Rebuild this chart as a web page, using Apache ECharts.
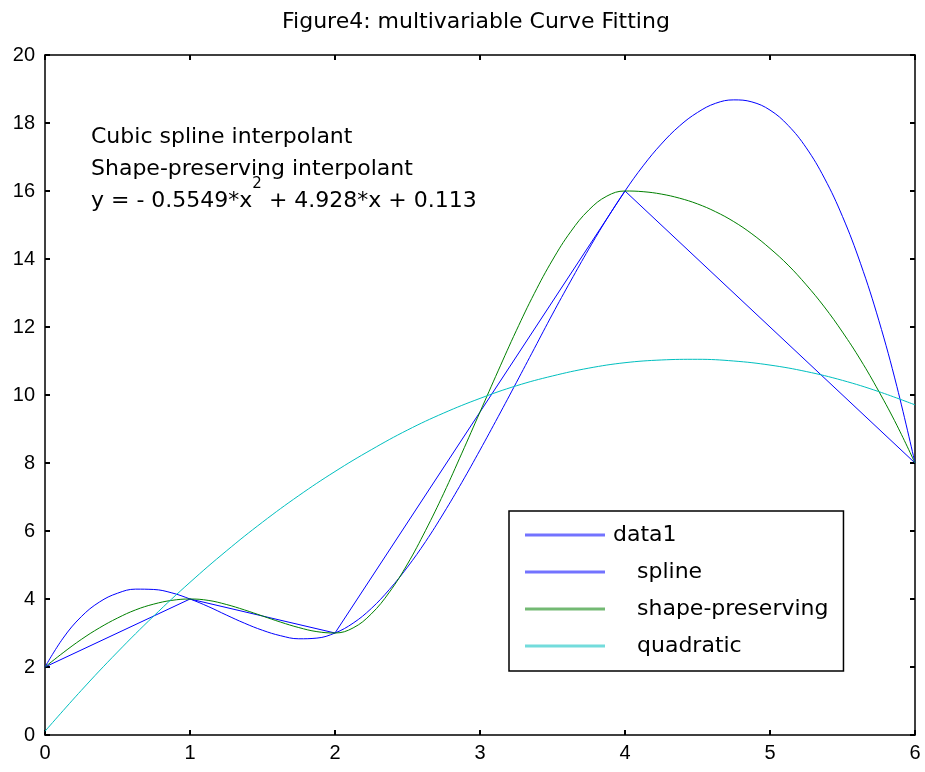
<!DOCTYPE html>
<html>
<head>
<meta charset="utf-8">
<script src="https://cdn.jsdelivr.net/npm/echarts@6/dist/echarts.min.js"></script>
<style>
html, body { margin: 0; padding: 0; background: #fff; }
#main { width: 925px; height: 772px; }
</style>
</head>
<body>
<div id="main"></div>
<script>
// raw data points
var dataX = [0, 1, 2, 4, 6];
var dataY = [2, 4, 3, 16, 8];

// interpolants read at every 1/8 of x
var xsFine = [0, 0.125, 0.25, 0.375, 0.5, 0.625, 0.75, 0.875, 1, 1.125, 1.25, 1.375, 1.5, 1.625, 1.75, 1.875,
              2, 2.125, 2.25, 2.375, 2.5, 2.625, 2.75, 2.875, 3, 3.125, 3.25, 3.375, 3.5, 3.625, 3.75, 3.875,
              4, 4.125, 4.25, 4.375, 4.5, 4.625, 4.75, 4.875, 5, 5.125, 5.25, 5.375, 5.5, 5.625, 5.75, 5.875, 6];
var splineY = [2, 2.85, 3.48, 3.91, 4.17, 4.29, 4.28, 4.18, 4, 3.78, 3.53, 3.29, 3.08, 2.92, 2.83, 2.85,
               3, 3.29, 3.72, 4.28, 4.94, 5.69, 6.53, 7.43, 8.38, 9.36, 10.36, 11.37, 12.38, 13.35, 14.29, 15.18,
               16, 16.74, 17.38, 17.91, 18.31, 18.58, 18.68, 18.62, 18.38, 17.93, 17.27, 16.38, 15.25, 13.86, 12.2, 10.25, 8];
var pchipY = [2, 2.42, 2.81, 3.15, 3.44, 3.68, 3.85, 3.96, 4, 3.96, 3.84, 3.68, 3.5, 3.32, 3.16, 3.04,
              3, 3.15, 3.56, 4.2, 5.03, 6.02, 7.11, 8.29, 9.5, 10.71, 11.89, 12.99, 13.97, 14.8, 15.44, 15.85,
              16, 15.98, 15.91, 15.79, 15.62, 15.39, 15.1, 14.74, 14.31, 13.82, 13.24, 12.59, 11.85, 11.03, 10.11, 9.11, 8];

// quadratic fit read at every 1/4 of x
var xsCoarse = [0, 0.25, 0.5, 0.75, 1, 1.25, 1.5, 1.75, 2, 2.25, 2.5, 2.75, 3,
                3.25, 3.5, 3.75, 4, 4.25, 4.5, 4.75, 5, 5.25, 5.5, 5.75, 6];
var quadY = [0.11, 1.31, 2.44, 3.5, 4.49, 5.41, 6.26, 7.04, 7.75, 8.39, 8.97, 9.47, 9.9,
             10.27, 10.56, 10.79, 10.95, 11.03, 11.05, 11, 10.88, 10.69, 10.43, 10.1, 9.71];

var seriesNames = ['data1', 'spline', 'shape-preserving', 'quadratic'];
var seriesColors = ['#0000ff', '#0000ff', '#008000', '#00bfbf'];
var notes = ['Cubic spline interpolant', 'Shape-preserving interpolant'];

function pairs(x, y) {
  return x.map(function (v, i) { return [v, y[i]]; });
}

var myChart = echarts.init(document.getElementById('main'));
var font = "'Liberation Sans', Arial, sans-serif";
var wide = "'DejaVu Sans', sans-serif";

function tick() {
  return { show: true, inside: true, length: 5, lineStyle: { color: '#000', width: 2 } };
}
function axisLine() {
  return { show: true, onZero: false, lineStyle: { color: '#000', width: 1.5 } };
}

function lineSeries(i, data, smooth) {
  return {
    name: seriesNames[i],
    type: 'line',
    data: data,
    symbol: 'none',
    showSymbol: false,
    smooth: smooth,
    xAxisIndex: 0,
    yAxisIndex: 0,
    lineStyle: { color: seriesColors[i], width: 1 },
    itemStyle: { color: seriesColors[i] },
    emphasis: { disabled: true }
  };
}

var option = {
  backgroundColor: '#fff',
  animation: false,
  title: {
    text: 'Figure4: multivariable Curve Fitting',
    left: 277,
    top: 6,
    textStyle: { fontFamily: wide, fontSize: 22, fontWeight: 'normal', color: '#000' }
  },
  grid: { left: 45, right: 10, top: 55, bottom: 37, containLabel: false },
  xAxis: [{
    type: 'value', min: 0, max: 6, interval: 1, position: 'bottom',
    axisLine: axisLine(), axisTick: tick(), splitLine: { show: false },
    axisLabel: { color: '#000', fontFamily: font, fontSize: 20, margin: 8 }
  }, {
    type: 'value', min: 0, max: 6, interval: 1, position: 'top',
    axisLine: axisLine(), axisTick: tick(), splitLine: { show: false },
    axisLabel: { show: false }
  }],
  yAxis: [{
    type: 'value', min: 0, max: 20, interval: 2, position: 'left',
    axisLine: axisLine(), axisTick: tick(), splitLine: { show: false },
    axisLabel: { color: '#000', fontFamily: font, fontSize: 20, margin: 10 }
  }, {
    type: 'value', min: 0, max: 20, interval: 2, position: 'right',
    axisLine: axisLine(), axisTick: tick(), splitLine: { show: false },
    axisLabel: { show: false }
  }],
  legend: {
    data: seriesNames,
    orient: 'vertical',
    left: 509,
    top: 511,
    padding: [13, 15, 14, 16],
    itemGap: 15,
    itemWidth: 80,
    itemHeight: 3,
    icon: 'rect',
    itemStyle: { opacity: 0.55 },
    borderColor: '#000',
    borderWidth: 1.5,
    backgroundColor: '#fff',
    selectedMode: false,
    textStyle: {
      fontFamily: wide, fontSize: 22, color: '#000',
      rich: {
        d: { fontFamily: wide, fontSize: 22, color: '#000', padding: [0, 0, 0, 3] },
        ind: { fontFamily: wide, fontSize: 22, color: '#000', padding: [0, 0, 0, 27] }
      }
    },
    formatter: function (name) {
      return name === 'data1' ? '{d|' + name + '}' : '{ind|' + name + '}';
    }
  },
  graphic: [{
    type: 'text', left: 91, top: 126,
    style: { text: notes[0], font: '22px ' + wide, fill: '#000' }
  }, {
    type: 'text', left: 91, top: 158,
    style: { text: notes[1], font: '22px ' + wide, fill: '#000' }
  }, {
    type: 'text', left: 91, top: 177,
    style: {
      text: '{n|y = - 0.5549*x}{s|2}{n| + 4.928*x + 0.113}',
      rich: {
        n: { fontFamily: wide, fontSize: 22, lineHeight: 48, fill: '#000' },
        s: { fontFamily: wide, fontSize: 15, lineHeight: 6, verticalAlign: 'top', fill: '#000' }
      }
    }
  }],
  series: [
    lineSeries(0, pairs(dataX, dataY), false),
    lineSeries(1, pairs(xsFine, splineY), 0.4),
    lineSeries(2, pairs(xsFine, pchipY), 0.4),
    lineSeries(3, pairs(xsCoarse, quadY), 0.4)
  ]
};

myChart.setOption(option);
</script>
</body>
</html>
